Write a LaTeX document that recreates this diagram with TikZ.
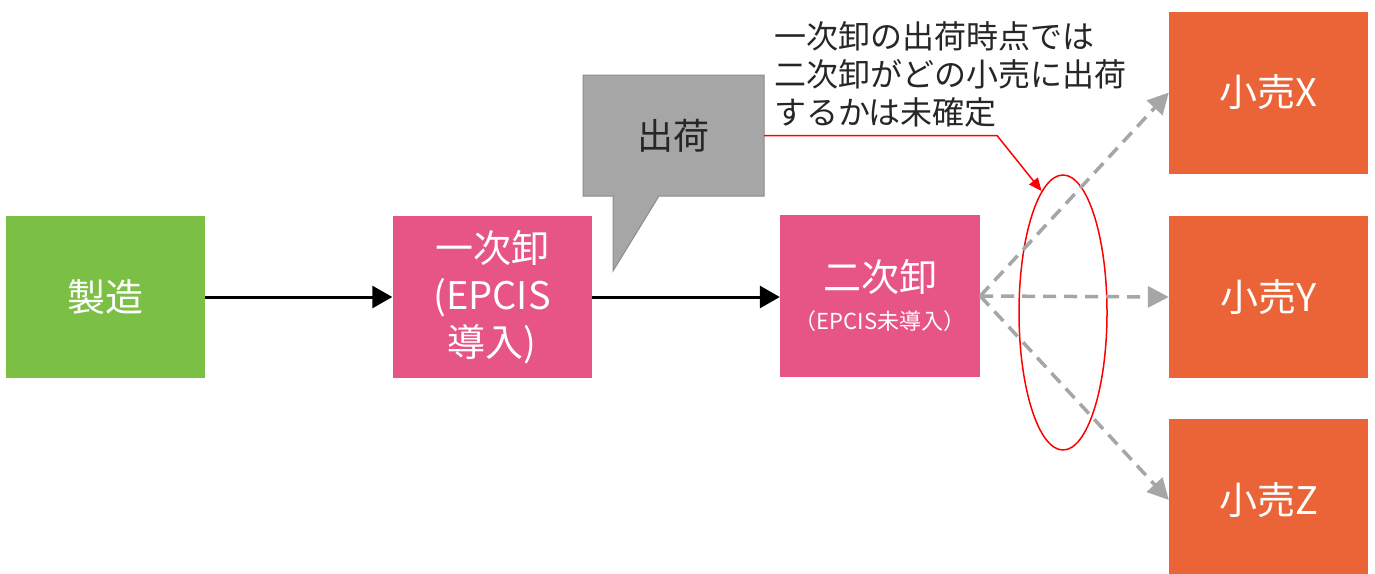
\documentclass[tikz,border=0pt]{standalone}
\usepackage{fontspec}
\setmainfont{Noto Sans CJK JP}
\usetikzlibrary{arrows.meta,shapes.geometric}
\definecolor{cgreen}{HTML}{7CBF45}
\definecolor{cpink}{HTML}{E75486}
\definecolor{corange}{HTML}{EB6437}
\definecolor{cgray}{HTML}{A6A6A6}
\definecolor{cgrayline}{HTML}{8C8C8C}
\definecolor{ctext}{HTML}{262626}
\tikzset{
  box/.style={rectangle, minimum width=199pt, minimum height=162pt, inner sep=0pt, text=white, align=center, font=\fontsize{38}{47}\selectfont},
  flow/.style={line width=3pt, -{Triangle[length=20pt,width=22pt]}},
  dflow/.style={line width=3.5pt, cgray, dash pattern=on 13pt off 8pt, -{Triangle[length=21pt,width=21pt]}},
  note/.style={red, line width=1.5pt, -{Triangle[length=13pt,width=11pt]}}
}
\begin{document}
\begin{tikzpicture}[x=1pt,y=-1pt]
\useasboundingbox (0,0) rectangle (1375,573);
\clip (0,0) rectangle (1375,573);
\fill[white] (0,0) rectangle (1375,573);
% boxes
\node[box, fill=cgreen] (mfg) at (105.5,297) {製造};
\node[box, fill=cpink] (w1) at (492,297) {一次卸\\(EPCIS\\導入)};
\node[box, fill=cpink, minimum width=200pt] (w2) at (880,296) {二次卸\\[-9pt]{\fontsize{22}{24}\selectfont （EPCIS未導入）}};
\node[box, fill=corange] (rx) at (1268.5,92.5) {小売X};
\node[box, fill=corange] (ry) at (1268.5,297) {小売Y};
\node[box, fill=corange] (rz) at (1268.5,500) {小売Z};
% callout
\filldraw[fill=cgray, draw=cgrayline, line width=1pt] (583,75) -- (764,75) -- (764,196) -- (659,196) -- (613,271) -- (613,196) -- (583,196) -- cycle;
\node[rectangle, minimum width=181pt, minimum height=121pt, inner sep=0pt, text=ctext, font=\fontsize{36}{40}\selectfont] (ship) at (673.5,135.5) {出荷};
% ellipse
\node[ellipse, draw=red, line width=1.5pt, minimum width=88pt, minimum height=275pt, inner sep=0pt] (ell) at (1063,312.5) {};
% annotation text
\node[anchor=north west, align=left, inner sep=0pt, text=ctext, font=\fontsize{32}{38}\selectfont] (txt) at (774,21) {一次卸の出荷時点では\\二次卸がどの小売に出荷\\するかは未確定};
% arrows
\draw[flow] (mfg.east) -- (w1.west);
\draw[flow] (w1.east) -- (w2.west |- w1.east);
\draw[dflow] (w2.east) -- (rx.west);
\draw[dflow] (w2.east) -- (ry.west);
\draw[dflow] (w2.east) -- (rz.west);
\coordinate (bend) at (997,135.5);
\draw[note] (ship.east) -- (bend) -- (ell.100);
\end{tikzpicture}
\end{document}
